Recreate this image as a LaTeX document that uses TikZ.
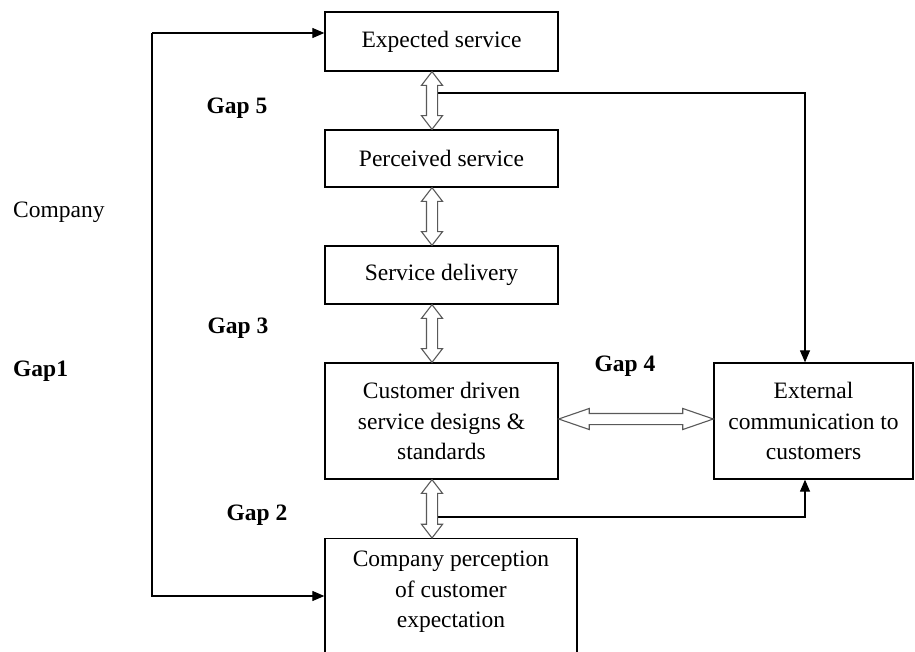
\documentclass[tikz,border=0pt]{standalone}
\usepackage{fontspec}
\setmainfont{Liberation Serif}
\usetikzlibrary{shapes.arrows,arrows.meta,calc}
\begin{document}
\begin{tikzpicture}[x=1pt,y=-1pt,
  txt/.style={font=\fontsize{23.5}{30.5}\selectfont},
  box/.style={draw, line width=1.3pt, minimum width=233pt, inner sep=0pt, align=center, txt},
  gap/.style={font=\bfseries\fontsize{23.5}{30.5}\selectfont, inner sep=0pt},
  arr/.style={line width=1.2pt, -{Triangle[length=12pt,width=10pt]}},
  hollow/.style={to path={let \p1=(\tikztostart), \p2=(\tikztotarget),
      \n1={veclen(\x2-\x1,\y2-\y1)} in
      (\tikztostart) -- (\tikztotarget)
      node[midway, sloped, double arrow, draw=black!65, fill=white, line width=1.1pt,
           minimum height=\n1, minimum width=20pt, double arrow head extend=5pt,
           double arrow tip angle=#1, inner xsep=0pt, inner ysep=5pt, outer sep=0pt] {}}},
  hollow/.default=75
]
\useasboundingbox (0,0) rectangle (915,652);
\clip (0,0) rectangle (915,652);

% boxes
\node[box, minimum height=59pt] (es) at (441.5,41.5) {Expected service};
\node[box, minimum height=57pt] (ps) at (441.5,158.5) {Perceived service};
\node[box, minimum height=58pt] (sd) at (441.5,275) {Service delivery};
\node[box, minimum height=116pt] (cd) at (441.5,421) {Customer driven\\service designs \&\\standards};
\node[box, minimum width=199pt, minimum height=116pt] (ext) at (813.5,421) {External\\communication to\\customers};
\node[box, minimum width=252pt, minimum height=140pt, anchor=north] (cp) at (451,538) {};
\node[txt, align=center, inner sep=0pt] (cpt) at (451,592) {Company perception\\of customer\\expectation};

% labels
\node[txt, anchor=west, inner sep=0pt] (company) at (13,212) {Company};
\node[gap, anchor=west] (g1) at (13,371) {Gap1};
\node[gap] (g5) at (237,108) {Gap 5};
\node[gap] (g3) at (238,328) {Gap 3};
\node[gap] (g4) at (625,366) {Gap 4};
\node[gap] (g2) at (257,515) {Gap 2};

% coordinates
\coordinate (a1) at ([xshift=-9.5pt]es.south);
\coordinate (b1) at ([xshift=-9.5pt]ps.north);
\coordinate (a2) at ([xshift=-9.5pt]ps.south);
\coordinate (b2) at ([xshift=-9.5pt]sd.north);
\coordinate (a3) at ([xshift=-9.5pt]sd.south);
\coordinate (b3) at ([xshift=-9.5pt]cd.north);
\coordinate (a4) at ([xshift=-9.5pt]cd.south);
\coordinate (b4) at ([xshift=-19pt]cp.north);
\coordinate (h1) at ([yshift=2pt]cd.east);
\coordinate (h2) at ([yshift=2pt]ext.west);
\coordinate (j1) at (437,93);
\coordinate (k1) at (805,93);
\coordinate (j2) at (437,517);
\coordinate (k2) at (805,517);
\coordinate (l1) at (152,33);
\coordinate (l2) at (152,596);

% connectors
\draw[arr] (j1) -- (k1) -- (k1 |- ext.north);
\draw[arr] (j2) -- (k2) -- (k2 |- ext.south);
\draw[arr] (l1) -- (l1 -| es.west);
\draw[arr] (l1) -- (l2) -- (l2 -| cp.west);

% hollow double arrows
\path (a1) to[hollow] (b1);
\path (a2) to[hollow] (b2);
\path (a3) to[hollow] (b3);
\path (a4) to[hollow] (b4);
\path (h1) to[hollow=38] (h2);
\end{tikzpicture}
\end{document}
